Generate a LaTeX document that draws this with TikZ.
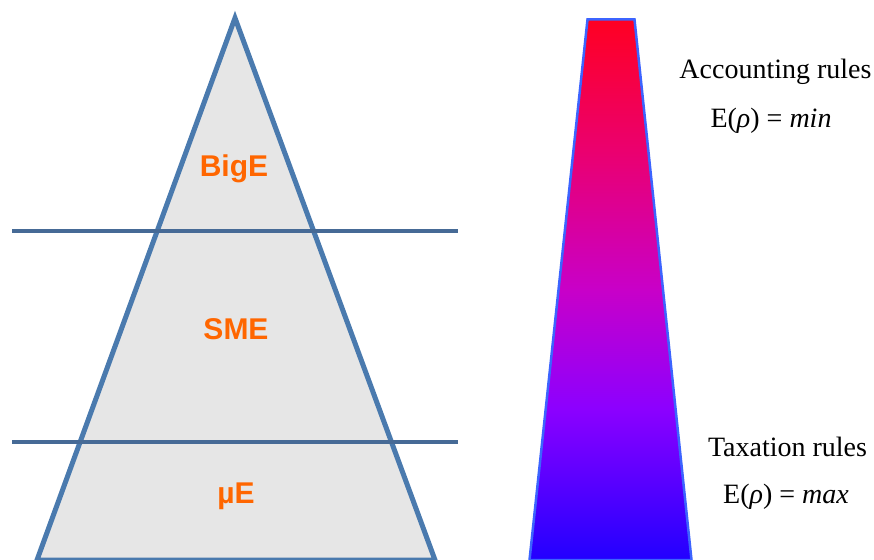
\documentclass[tikz,border=0pt]{standalone}
\usepackage{fontspec}
\setmainfont{Liberation Serif}
\newfontfamily\labfont{Liberation Sans}
\definecolor{triblue}{RGB}{74,122,174}
\definecolor{lineblue}{RGB}{70,106,150}
\definecolor{trifill}{RGB}{230,230,230}
\definecolor{laborange}{RGB}{255,102,0}
\definecolor{gradtop}{RGB}{255,0,34}
\definecolor{gradA}{RGB}{235,0,110}
\definecolor{gradB}{RGB}{200,0,200}
\definecolor{gradC}{RGB}{140,0,255}
\definecolor{gradbot}{RGB}{34,0,255}
\definecolor{trapedge}{RGB}{60,100,255}
\pgfdeclareverticalshading{rulegrad}{100bp}{color(0bp)=(gradbot); color(25bp)=(gradbot); color(39bp)=(gradC); color(50bp)=(gradB); color(63bp)=(gradA); color(75bp)=(gradtop); color(100bp)=(gradtop)}
\tikzset{
  levellabel/.style={font=\labfont\bfseries\fontsize{30}{34}\selectfont, text=laborange, anchor=base, inner sep=0pt},
  ruletext/.style={font=\fontsize{28}{32}\selectfont, anchor=base, inner sep=0pt},
  divider/.style={draw=lineblue, line width=4pt},
}
\begin{document}
\begin{tikzpicture}[x=1pt,y=-1pt]
\useasboundingbox (0,0) rectangle (874,559);
% pyramid
\coordinate (apex) at (235,18);
\coordinate (bl) at (37,560);
\coordinate (br) at (435,560);
\draw[triblue, fill=trifill, line width=5pt, line join=miter] (apex) -- (br) -- (bl) -- cycle;
% dividers
\coordinate (d1l) at (12,231);
\coordinate (d1r) at (458,231);
\coordinate (d2l) at (12,442);
\coordinate (d2r) at (458,442);
\draw[divider] (d1l) -- (d1r);
\draw[divider] (d2l) -- (d2r);
% labels
\node[levellabel] (bige) at (234,176) {BigE};
\node[levellabel] (sme) at (236,339) {SME};
\node[levellabel] (mue) at (236,503) {µE};
% gradient trapezoid
\coordinate (tl) at (587.5,19.5);
\coordinate (tr) at (634.5,19.5);
\coordinate (btr) at (691.5,560);
\coordinate (btl) at (529.5,560);
\shade[shading=rulegrad] (tl) -- (tr) -- (btr) -- (btl) -- cycle;
\draw[trapedge, line width=2.5pt] (tl) -- (tr) -- (btr) -- (btl) -- cycle;
% rule texts
\node[ruletext] (acc) at (775.5,79) {Accounting rules};
\node[ruletext] (accE) at (771,127) {E(\textit{ρ}) = \textit{min}};
\node[ruletext] (tax) at (787.5,456) {Taxation rules};
\node[ruletext] (taxE) at (786,503) {E(\textit{ρ}) = \textit{max}};
\end{tikzpicture}
\end{document}
